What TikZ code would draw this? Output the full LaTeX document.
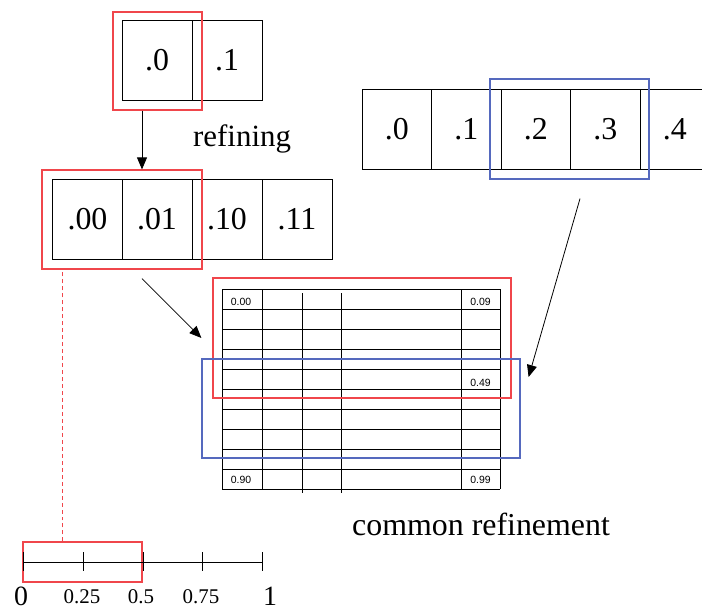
\documentclass[tikz,border=0pt]{standalone}
\usepackage{fontspec}
\setmainfont{Liberation Serif}
\newfontfamily\gridfont{Liberation Sans}
\usetikzlibrary{positioning,arrows,arrows.meta}
\definecolor{selred}{RGB}{240,70,75}
\definecolor{selblue}{RGB}{85,105,190}

\begin{document}
\begin{tikzpicture}[x=1bp,y=-1bp,
    cell/.style={draw,line width=0.9pt,minimum width=70bp,minimum height=80bp,inner sep=0pt,font=\fontsize{32}{36}\selectfont},
    sel red/.style={draw=selred,line width=1.2pt,inner sep=0pt},
    sel blue/.style={draw=selblue,line width=1.2pt,inner sep=0pt},
    arr/.style={line width=0.8pt,-{Triangle[length=12pt,width=10pt]}},
    gridline/.style={line width=0.9pt},
    grid label/.style={font=\gridfont\fontsize{10.5}{12}\selectfont,inner sep=0pt,anchor=base},
    big text/.style={font=\fontsize{31}{36}\selectfont,inner sep=0pt}
                      ]
   \useasboundingbox (0,0) rectangle (702,610);
   \clip (0,0) rectangle (702,610);
   % top row
   \node[cell] (t0) at (157,60) {.0};
   \node[cell] (t1) at (227,60) {.1};
   % refined row
   \node[cell] (s00) at (87.5,219) {.00};
   \node[cell] (s01) at (157,219) {.01};
   \node[cell] (s10) at (227,219) {.10};
   \node[cell] (s11) at (297,219) {.11};
   % right row
   \node[cell,minimum width=69.5bp] (r0) at (396.75,129.5) {.0};
   \node[cell,minimum width=69.5bp] (r1) at (466.25,129.5) {.1};
   \node[cell,minimum width=69.5bp] (r2) at (535.75,129.5) {.2};
   \node[cell,minimum width=69.5bp] (r3) at (605.25,129.5) {.3};
   \node[cell,minimum width=69.5bp] (r4) at (674.75,129.5) {.4};
   % common refinement grid
   \foreach \y in {289,309,...,489}
     \draw[gridline] (222,\y) -- (500,\y);
   \foreach \x in {222,262,461,500}
     \draw[gridline] (\x,289) -- (\x,489);
   \foreach \x in {302,341}
     \draw[gridline] (\x,293) -- (\x,493);
   \node[grid label] (g00) at (241,305) {0.00};
   \node[grid label] (g09) at (480.5,305) {0.09};
   \node[grid label] (g49) at (480.5,386) {0.49};
   \node[grid label] (g90) at (241,483) {0.90};
   \node[grid label] (g99) at (480.5,483) {0.99};
   % selections
   \node[sel red,minimum width=89bp,minimum height=98bp] (sel0) at (157.5,61) {};
   \node[sel red,minimum width=160bp,minimum height=99bp] (sel1) at (122,219.5) {};
   \node[sel red,minimum width=298bp,minimum height=120bp] (sel2) at (362,338) {};
   \node[sel blue,minimum width=159bp,minimum height=100bp] (selA) at (569.5,129) {};
   \node[sel blue,minimum width=318bp,minimum height=99bp] (selB) at (361,408.5) {};
   \node[sel red,minimum width=119bp,minimum height=40bp] (sel5) at (82.5,562) {};
   % texts
   \node[big text,anchor=base west] (refining) at (193,147) {refining};
   \node[big text,anchor=base west,font=\fontsize{32}{36}\selectfont] (common) at (352,535) {common refinement};
   % connectors
   \draw[arr] ([xshift=-15.5bp]sel0.south) -- ([xshift=-15.5bp]sel0.south |- sel1.north);
   \draw[arr] ([shift={(20bp,-9bp)}]sel1.south) -- ([xshift=-11bp]sel2.west);
   \draw[arr] ([shift={(10.5bp,-19bp)}]selA.south) -- ([shift={(8bp,31.5bp)}]selB.east);
   \draw[selred,line width=0.9pt,dash pattern=on 4pt off 3pt]
     ([xshift=40bp]sel5.north west) -- ([xshift=40bp]sel5.north west |- sel1.south);
   % unit interval
   \draw[gridline] (23,562) -- (262,562);
   \foreach \x in {23,83,143,202,262}
     \draw[gridline] (\x,552) -- (\x,571);
   \node[anchor=base,inner sep=0pt,font=\fontsize{28}{32}\selectfont] (zero) at (21,605) {0};
   \node[anchor=base,inner sep=0pt,font=\fontsize{21}{24}\selectfont] (q1) at (82,603) {0.25};
   \node[anchor=base,inner sep=0pt,font=\fontsize{21}{24}\selectfont] (q2) at (141,603) {0.5};
   \node[anchor=base,inner sep=0pt,font=\fontsize{21}{24}\selectfont] (q3) at (201,603) {0.75};
   \node[anchor=base,inner sep=0pt,font=\fontsize{28}{32}\selectfont] (one) at (270,605) {1};
  \end{tikzpicture}
\end{document}
